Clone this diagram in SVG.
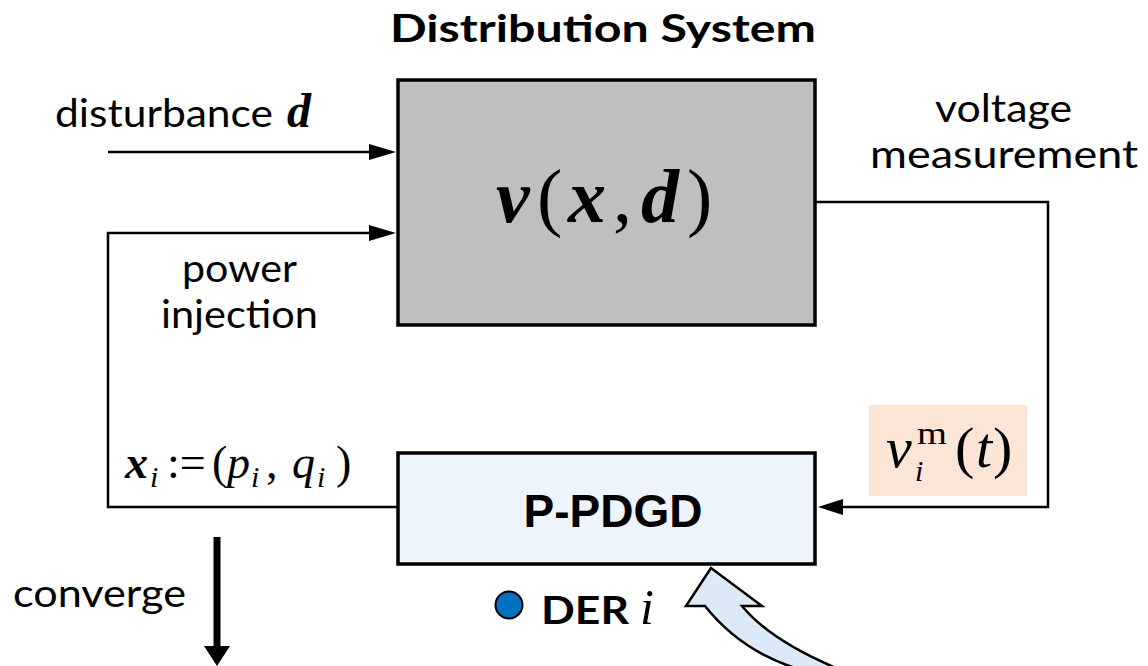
<svg xmlns="http://www.w3.org/2000/svg" width="1148" height="666" viewBox="0 0 1148 666">
<style>
.lbl{font-family:Lato,"Open Sans","Liberation Sans",sans-serif;font-size:38px;fill:#000}
.bold{font-weight:bold}
.m{font-family:"Liberation Serif","DejaVu Serif",serif;fill:#000}
.mi{font-style:italic}
.mb{font-style:italic;font-weight:bold}
.ln{fill:none;stroke:#000;stroke-width:2.5}
</style>
<rect width="1148" height="666" fill="#fff"/>
<text class="lbl bold" x="390" y="42" font-size="43" textLength="426" lengthAdjust="spacingAndGlyphs">Distribution System</text>
<g id="connectors">
<path class="ln" d="M108,152 H370"/>
<path d="M369,144 L396,152 L369,160 Z"/>
<path class="ln" d="M398,507 H108 V233 H370"/>
<path d="M369,225 L396,233 L369,241 Z"/>
<path class="ln" d="M815,202 H1048 V507 H842"/>
<path d="M843,499 L818,507 L843,515 Z"/>
<path d="M217,537 V648" stroke="#000" stroke-width="7" fill="none"/>
<path d="M204,646 L230,646 L217,666 Z"/>
<path d="M711,568 L686,606 L705,606 Q740,650 795,668 L836,668 Q770,640 742,606 L762,606 Z" fill="#dce9f6" stroke="#000" stroke-width="2.5" stroke-linejoin="miter"/>
</g>
<g id="distribution-system">
<rect x="398" y="80" width="417" height="245" fill="#bfbfbf" stroke="#000" stroke-width="3.5"/>
<text class="m" font-size="76" y="222"><tspan x="496" class="mb">v</tspan><tspan x="537">(</tspan><tspan x="568" class="mb">x</tspan><tspan x="613">,</tspan><tspan x="641" class="mb">d</tspan><tspan x="687">)</tspan></text>
</g>
<g id="p-pdgd">
<rect x="398" y="453" width="417" height="111" fill="#edf4fb" stroke="#000" stroke-width="3.5"/>
<text x="613" y="527" text-anchor="middle" font-family="'Liberation Sans',Arial,sans-serif" font-weight="bold" font-size="46">P-PDGD</text>
</g>
<g id="label-disturbance">
<text class="lbl" x="55" y="127"><tspan textLength="218" lengthAdjust="spacingAndGlyphs">disturbance</tspan><tspan x="287" class="m mb" font-size="48">d</tspan></text>
</g>
<g id="label-voltage">
<text class="lbl"><tspan x="935" y="122" textLength="137" lengthAdjust="spacingAndGlyphs">voltage</tspan><tspan x="870" y="168" textLength="268" lengthAdjust="spacingAndGlyphs">measurement</tspan></text>
</g>
<g id="label-power">
<text class="lbl"><tspan x="182" y="282" textLength="115" lengthAdjust="spacingAndGlyphs">power</tspan><tspan x="161" y="328" textLength="157" lengthAdjust="spacingAndGlyphs">injection</tspan></text>
</g>
<g id="label-vm">
<rect x="869" y="405" width="158" height="91" fill="#fbe5d6"/>
<text class="m" font-size="58"><tspan class="mi" x="886" y="467">v</tspan><tspan x="917" y="444" font-size="32" textLength="30" lengthAdjust="spacingAndGlyphs">m</tspan><tspan class="mi" x="915" y="481" font-size="30">i</tspan><tspan x="955" y="467">(</tspan><tspan class="mi" x="976" y="467">t</tspan><tspan x="993" y="467">)</tspan></text>
</g>
<g id="label-xi">
<text class="m" font-size="46"><tspan class="mb" x="125" y="478">x</tspan><tspan class="mi" x="150" y="487" font-size="30">i</tspan><tspan x="167" y="478">:=</tspan><tspan x="212" y="478">(</tspan><tspan class="mi" x="227" y="478">p</tspan><tspan class="mi" x="251" y="487" font-size="30">i</tspan><tspan x="266" y="478">,</tspan><tspan class="mi" x="292" y="478">q</tspan><tspan class="mi" x="317" y="487" font-size="30">i</tspan><tspan x="336" y="478">)</tspan></text>
</g>
<g id="label-converge">
<text class="lbl" x="13" y="607" textLength="173" lengthAdjust="spacingAndGlyphs">converge</text>
</g>
<g id="der-i">
<circle cx="509" cy="605" r="13.5" fill="#0070c0" stroke="#000" stroke-width="2"/>
<text class="lbl bold" x="541" y="624" font-size="43"><tspan textLength="88" lengthAdjust="spacingAndGlyphs">DER</tspan><tspan x="640" class="m mi" font-size="50" font-weight="normal">i</tspan></text>
</g>
</svg>
